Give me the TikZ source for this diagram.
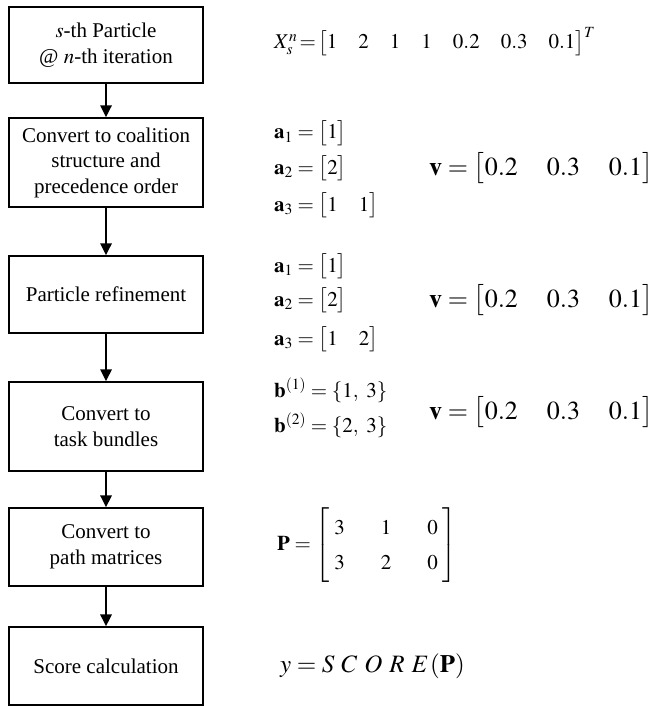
\documentclass[tikz,border=0pt]{standalone}
\usepackage{amsmath}
\usepackage{mathptmx}
\usepackage{fontspec}
\setmainfont{Liberation Serif}
\usetikzlibrary{arrows.meta}

\tikzset{
  stage/.style={draw, line width=1.1pt, minimum width=194pt, align=center,
    inner sep=0pt, font=\fontsize{21}{25.5}\selectfont},
  eqn/.style={anchor=base west, inner sep=0pt, font=\fontsize{21}{25}\selectfont},
  veqn/.style={anchor=base west, inner sep=0pt, font=\fontsize{26}{30}\selectfont},
  flow/.style={->, line width=2.6pt, >={Triangle[length=12pt,width=11pt]}}
}
\newcommand{\vrow}{$\mathbf{v} = \bigl[0.2\quad\mkern2mu 0.3\quad\mkern2mu 0.1\bigr]$}

\begin{document}
\begin{tikzpicture}[x=1pt,y=-1pt]
\useasboundingbox (0,0) rectangle (653,706);
% stages of the flow
\node[stage, minimum height=76pt] (part) at (106,45) {$s$-th Particle\\@ $n$-th iteration};
\node[stage, minimum height=89pt] (coal) at (106,162.5) {Convert to coalition\\structure and\\precedence order};
\node[stage, minimum height=77pt] (refine) at (106,294.5) {Particle refinement};
\node[stage, minimum height=89pt] (bundle) at (106,426.5) {Convert to\\task bundles};
\node[stage, minimum height=78pt] (path) at (106,547) {Convert to\\path matrices};
\node[stage, minimum height=78pt] (score) at (106,666) {Score calculation};
\draw[flow] (part) -- (coal);
\draw[flow] (coal) -- (refine);
\draw[flow] (refine) -- (bundle);
\draw[flow] (bundle) -- (path);
\draw[flow] (path) -- (score);
% equations
\node[eqn] (xsn) at (274,49) {$X_s^n\,{=}\,\bigl[1\quad 2\quad 1\quad 1\quad 0.2\quad 0.3\quad 0.1\bigr]^T$};
\node[eqn] (aone) at (274,139) {$\mathbf{a}_1 = \bigl[1\bigr]$};
\node[eqn] (atwo) at (274,174) {$\mathbf{a}_2 = \bigl[2\bigr]$};
\node[eqn] (athree) at (274,211) {$\mathbf{a}_3 = \bigl[1\quad 1\bigr]$};
\node[veqn] (vone) at (429,175) {\vrow};
\node[eqn] (aonex) at (274,272) {$\mathbf{a}_1 = \bigl[1\bigr]$};
\node[eqn] (atwox) at (274,306) {$\mathbf{a}_2 = \bigl[2\bigr]$};
\node[eqn] (athreex) at (274,345) {$\mathbf{a}_3 = \bigl[1\quad 2\bigr]$};
\node[veqn] (vtwo) at (429,307) {\vrow};
\node[eqn] (bone) at (274,397) {$\mathbf{b}^{(1)} = \{1,\ 3\}$};
\node[eqn] (btwo) at (274,432) {$\mathbf{b}^{(2)} = \{2,\ 3\}$};
\node[veqn] (vthree) at (429,419) {\vrow};
\node[eqn, anchor=west] (pmat) at (277,545) {\setlength{\arraycolsep}{18pt}\renewcommand{\arraystretch}{1.4}%
  $\mathbf{P} = \left[\;\begin{matrix}3&1&0\\3&2&0\end{matrix}\;\right]$};
\node[eqn, font=\fontsize{25}{29}\selectfont] (yscore) at (280,672)
  {$y = S\mkern5mu C\mkern5mu O\mkern5mu R\mkern5mu E\mkern1mu(\mathbf{P})$};
\end{tikzpicture}
\end{document}
